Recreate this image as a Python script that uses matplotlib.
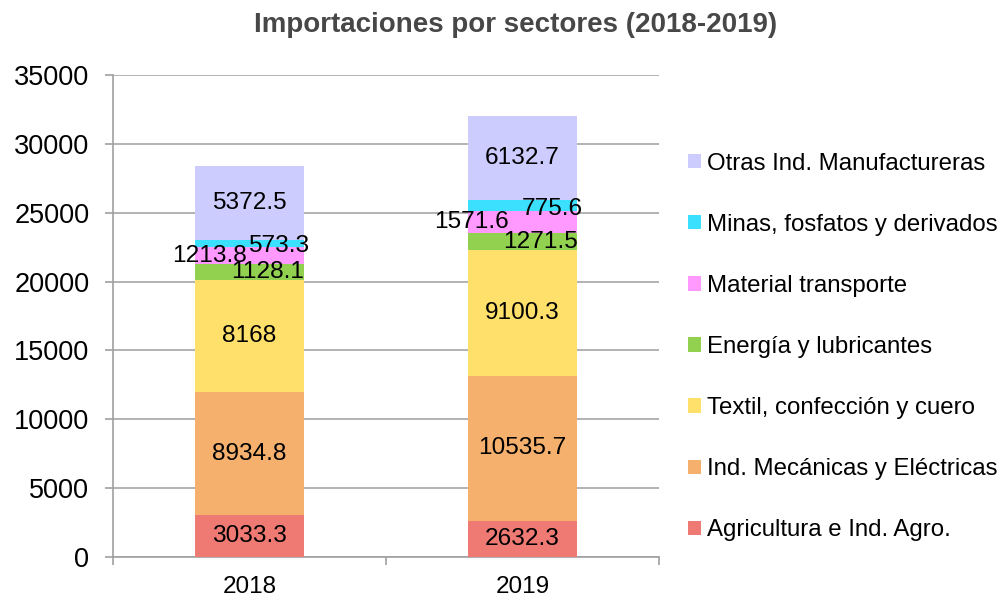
import matplotlib
matplotlib.use("Agg")
import matplotlib.pyplot as plt
import numpy as np

plt.rcParams['font.family'] = ['Liberation Sans', 'DejaVu Sans']

years = ["2018", "2019"]
series_names = [
    "Agricultura e Ind. Agro.",
    "Ind. Mecánicas y Eléctricas",
    "Textil, confección y cuero",
    "Energía y lubricantes",
    "Material transporte",
    "Minas, fosfatos y derivados",
    "Otras Ind. Manufactureras",
]
agricultura = [3033.3, 2632.3]
mecanicas = [8934.8, 10535.7]
textil = [8168, 9100.3]
energia = [1128.1, 1271.5]
material = [1213.8, 1571.6]
minas = [573.3, 775.6]
otras = [5372.5, 6132.7]
yticks = [0, 5000, 10000, 15000, 20000, 25000, 30000, 35000]

series = [agricultura, mecanicas, textil, energia, material, minas, otras]
colors = ["#EF7A73", "#F5B06E", "#FFE06A", "#92D050", "#FF99FF", "#3BE0FF", "#CCCCFF"]
# label nudges (pixels) per series index -> per year
nudges = {
    3: [(18, 0), (18, 0)],
    4: [(-40, 0), (-51, 0)],
    5: [(29, -3), (30, -3)],
}

fig = plt.figure(figsize=(10.01, 5.97), dpi=100)
ax = fig.add_axes([113/1001, 40/597, (659-113)/1001, (557-75)/597])

x = np.arange(len(years))
bottom = np.zeros(len(years))
handles = []
for i, (name, vals, col) in enumerate(zip(series_names, series, colors)):
    vals = np.array(vals, dtype=float)
    b = ax.bar(x, vals, 0.4, bottom=bottom, color=col, label=name, zorder=3)
    handles.append(b)
    for j in range(len(years)):
        dx, dy = nudges.get(i, [(0, 0), (0, 0)])[j]
        v = vals[j]
        txt = f"{v:g}"
        ax.annotate(txt, xy=(x[j], bottom[j] + v / 2), xytext=(dx, dy),
                    textcoords="offset pixels", ha="center", va="center",
                    fontsize=17.6, color="black", zorder=5)
    bottom += vals

ax.set_xlim(-0.5, 1.5)
ax.set_ylim(0, 35000)
ax.set_yticks(yticks)
ax.set_yticklabels([str(t) for t in yticks])
ax.set_xticks(x)
ax.set_xticklabels(years)
ax.set_xticks([-0.5, 0.5, 1.5], minor=True)
ax.tick_params(axis='x', which='major', length=0, labelsize=17.5, pad=14)
ax.tick_params(axis='x', which='minor', length=6, color="#A0A0A0", width=1.2)
ax.tick_params(axis='y', which='major', length=6, color="#A0A0A0", width=1.2, labelsize=19.5, pad=11)
ax.grid(axis='y', color="#A6A6A6", linewidth=1.2, zorder=0)
for s in ["top", "right"]:
    ax.spines[s].set_visible(False)
ax.spines["left"].set_color("#A0A0A0")
ax.spines["bottom"].set_color("#A0A0A0")
ax.spines["left"].set_linewidth(1.2)
ax.spines["bottom"].set_linewidth(1.2)

fig.text(516/1001, 1 - 25/597, "Importaciones por sectores (2018-2019)",
         ha="center", va="center", fontsize=20, fontweight="bold", color="#474747")

leg = fig.legend(handles[::-1], series_names[::-1], loc="center left",
                 bbox_to_anchor=(688/1001, 1 - 347/597), frameon=False,
                 fontsize=17.3, handlelength=0.55, handleheight=0.55,
                 handletextpad=0.25, labelspacing=1.63, borderpad=0, borderaxespad=0)

fig.savefig("out.png", dpi=100)
